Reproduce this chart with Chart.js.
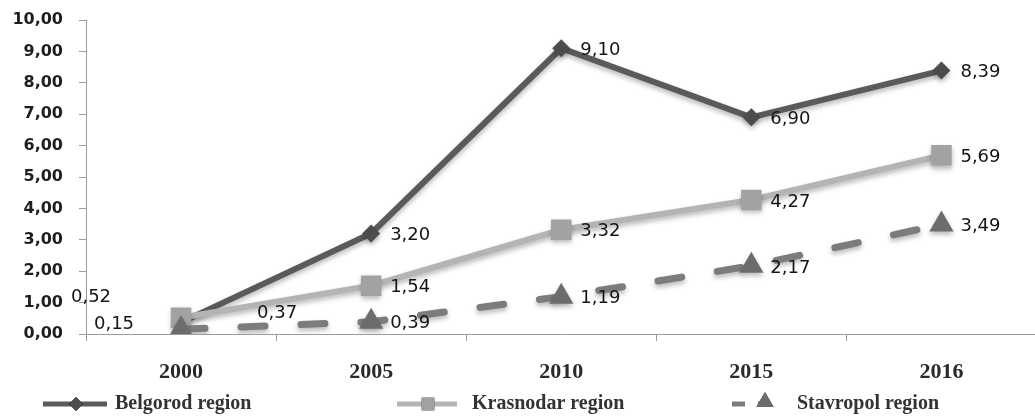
<!DOCTYPE html>
<html>
<head>
<meta charset="utf-8">
<script src="https://cdn.jsdelivr.net/npm/chart.js@4.4.1/dist/chart.umd.min.js"></script>
<style>
  html, body { margin: 0; padding: 0; background: #ffffff; overflow: hidden; }
  #chart { display: block; width: 1051px; height: 419px; }
</style>
</head>
<body>
<canvas id="chart" width="1051" height="419"></canvas>
<script>
// Years on the category axis
const years = ['2000', '2005', '2010', '2015', '2016'];

// Values per region
const belgorod  = [0.37, 3.20, 9.10, 6.90, 8.39];
const krasnodar = [0.52, 1.54, 3.32, 4.27, 5.69];
const stavropol = [0.15, 0.39, 1.19, 2.17, 3.49];

// Series names
const seriesNames = ['Belgorod region', 'Krasnodar region', 'Stavropol region'];

const fmt = v => v.toFixed(2).replace('.', ',');

// Value labels: drawn to the right of each marker, with a few moved aside near 2000
const labelShift = {
  '0:0': { dx: 76, dy: -9, align: 'left' },
  '1:0': { dx: -70, dy: -20, align: 'right' },
  '2:0': { dx: -47, dy: -5, align: 'right' }
};

const valueLabels = {
  id: 'valueLabels',
  afterDatasetsDraw(chart) {
    const ctx = chart.ctx;
    ctx.save();
    ctx.font = '18px "DejaVu Sans"';
    ctx.fillStyle = '#151515';
    ctx.textBaseline = 'middle';
    chart.data.datasets.forEach((ds, di) => {
      const meta = chart.getDatasetMeta(di);
      meta.data.forEach((pt, i) => {
        const s = labelShift[di + ':' + i] || { dx: 19, dy: 2, align: 'left' };
        ctx.textAlign = s.align;
        ctx.fillText(fmt(ds.data[i]), pt.x + s.dx, pt.y + s.dy);
      });
    });
    ctx.restore();
  }
};

// Soft drop shadow under lines and markers
const softShadow = {
  id: 'softShadow',
  beforeDatasetsDraw(chart) {
    const ctx = chart.ctx;
    ctx.save();
    ctx.shadowColor = 'rgba(0,0,0,0.28)';
    ctx.shadowBlur = 5;
    ctx.shadowOffsetX = 0;
    ctx.shadowOffsetY = 3;
  },
  afterDatasetsDraw(chart) {
    chart.ctx.restore();
  }
};

// Legend row at the bottom: line sample with marker, then the series name
const bottomLegend = {
  id: 'bottomLegend',
  afterDraw(chart) {
    const ctx = chart.ctx;
    const y = 404;
    const items = [
      { x0: 43, x1: 107, mx: 76, text: 115 },
      { x0: 397, x1: 457, mx: 428, text: 472 },
      { x0: 732, x1: 774, mx: 765, text: 797 }
    ];
    ctx.save();
    chart.data.datasets.forEach((ds, di) => {
      const it = items[di];
      ctx.strokeStyle = ds.borderColor;
      ctx.lineWidth = 5;
      ctx.lineCap = 'butt';
      ctx.setLineDash(di === 2 ? [13, 13] : []);
      ctx.beginPath();
      ctx.moveTo(it.x0, y);
      ctx.lineTo(it.x1, y);
      ctx.stroke();
      ctx.setLineDash([]);
      const r = di === 0 ? 7 : (di === 1 ? 9 : 10);
      Chart.helpers.drawPoint(ctx, {
        pointStyle: ds.pointStyle,
        rotation: 0,
        radius: r,
        borderWidth: 0
      }, it.mx, y - (di === 2 ? 2 : 0));
      ctx.fillStyle = ds.pointBackgroundColor;
      ctx.fill();
      ctx.fillStyle = '#333333';
      ctx.font = 'bold 20px "Liberation Serif"';
      ctx.textAlign = 'left';
      ctx.textBaseline = 'middle';
      ctx.fillText(seriesNames[di], it.text, y);
    });
    ctx.restore();
  }
};

new Chart(document.getElementById('chart'), {
  type: 'line',
  data: {
    labels: years,
    datasets: [
      {
        label: seriesNames[0],
        data: belgorod,
        order: 3,
        borderColor: '#5a5a5a',
        borderWidth: 6,
        pointStyle: 'rectRot',
        pointRadius: 9,
        pointBackgroundColor: '#4c4c4c',
        pointBorderWidth: 0,
        tension: 0
      },
      {
        label: seriesNames[1],
        data: krasnodar,
        order: 2,
        borderColor: '#b4b4b4',
        borderWidth: 6,
        pointStyle: 'rect',
        pointRadius: 14.5,
        pointBackgroundColor: '#a2a2a2',
        pointBorderWidth: 0,
        tension: 0
      },
      {
        label: seriesNames[2],
        data: stavropol,
        order: 1,
        borderColor: '#7c7c7c',
        borderWidth: 7,
        borderDash: [24, 36],
        borderCapStyle: 'round',
        pointStyle: 'triangle',
        pointRadius: 14,
        pointBackgroundColor: '#6c6c6c',
        pointBorderWidth: 0,
        tension: 0
      }
    ]
  },
  options: {
    responsive: false,
    animation: false,
    devicePixelRatio: 1,
    layout: { padding: { top: 20, right: 0, bottom: 0, left: 0 } },
    plugins: {
      legend: { display: false },
      tooltip: { enabled: false }
    },
    scales: {
      x: {
        offset: true,
        border: { color: '#9c9c9c', width: 1 },
        grid: { drawOnChartArea: false, tickLength: 7, color: '#9c9c9c', offset: true },
        ticks: {
          color: '#2a2a2a',
          padding: 18,
          font: { family: '"Liberation Serif"', weight: 'bold', size: 22 }
        },
        afterFit(scale) {
          scale.height = 85;
          scale.paddingLeft = 0;
          scale.paddingRight = 0;
        }
      },
      y: {
        min: 0,
        max: 10,
        border: { color: '#9c9c9c', width: 1 },
        grid: { drawOnChartArea: false, tickLength: 7, color: '#9c9c9c' },
        ticks: {
          stepSize: 1,
          color: '#1e1e1e',
          padding: 16,
          font: { family: '"DejaVu Sans"', weight: 'bold', size: 16 },
          callback: v => fmt(v)
        },
        afterFit(scale) {
          scale.width = 86;
          scale.paddingTop = 0;
          scale.paddingBottom = 0;
        }
      }
    }
  },
  plugins: [softShadow, valueLabels, bottomLegend]
});
</script>
</body>
</html>
